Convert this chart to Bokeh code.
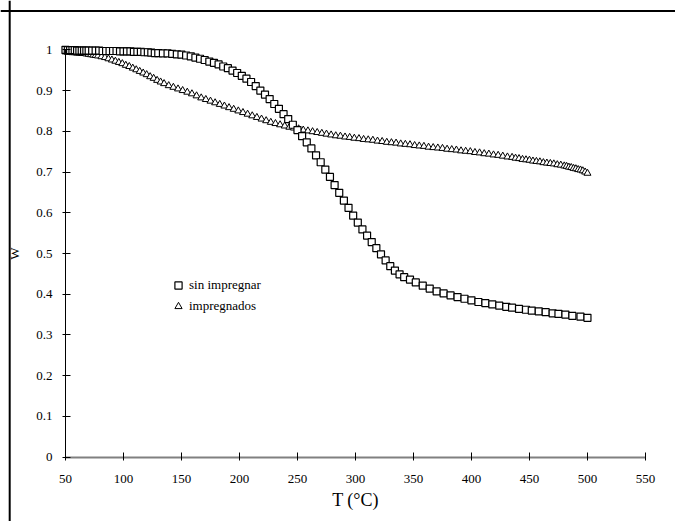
from bokeh.plotting import figure
from bokeh.models import (Range1d, FixedTicker, CustomJSTickFormatter, Legend,
                          LegendItem, Span, ColumnDataSource)
from bokeh.embed import file_html
from bokeh.resources import INLINE

# ---- data ----
t_sin = [50, 52, 54, 56, 58, 60, 62, 64, 66, 68, 70, 73, 76, 79, 82, 85, 88, 91, 94, 97,
         100, 103, 106, 109, 112, 115, 118, 121, 124, 127, 130, 134, 138, 142, 146, 150,
         154, 158, 162, 166, 170, 174, 178, 182, 186, 190, 194, 198, 202, 206, 210, 214,
         218, 222, 226, 230, 234, 238, 242, 246, 250, 254, 258, 262, 266, 270, 274, 278,
         282, 286, 290, 294, 298, 302, 306, 310, 314, 318, 322, 326, 330, 334, 338, 342,
         347, 352, 358, 364, 370, 376, 382, 388, 394, 400, 406, 412, 418, 424, 430, 435,
         441, 447, 452, 458, 464, 470, 475, 481, 487, 494, 500]
w_sin = [1.000, 0.999, 0.999, 0.999, 0.999, 0.998, 0.998, 0.998, 0.998, 0.998, 0.998, 0.998,
         0.998, 0.998, 0.997, 0.997, 0.997, 0.997, 0.997, 0.996, 0.996, 0.996, 0.996, 0.995,
         0.995, 0.995, 0.994, 0.994, 0.993, 0.992, 0.992, 0.991, 0.991, 0.990, 0.989, 0.988,
         0.986, 0.984, 0.981, 0.978, 0.975, 0.971, 0.968, 0.964, 0.959, 0.955, 0.949, 0.943,
         0.936, 0.929, 0.921, 0.911, 0.900, 0.890, 0.879, 0.867, 0.855, 0.842, 0.830, 0.816,
         0.803, 0.788, 0.773, 0.758, 0.741, 0.724, 0.706, 0.688, 0.668, 0.649, 0.630, 0.612,
         0.593, 0.576, 0.559, 0.544, 0.528, 0.513, 0.498, 0.483, 0.469, 0.458, 0.449, 0.442,
         0.436, 0.429, 0.421, 0.414, 0.407, 0.402, 0.397, 0.393, 0.389, 0.385, 0.381, 0.378,
         0.375, 0.372, 0.369, 0.367, 0.364, 0.362, 0.360, 0.358, 0.356, 0.353, 0.352, 0.350,
         0.347, 0.345, 0.342]

t_imp = [50, 52, 54, 56, 58, 60, 62, 64, 66, 68, 70, 72, 74, 76, 78, 81, 84, 87, 90, 93, 96,
         99, 102, 105, 108, 111, 114, 117, 120, 123, 126, 129, 132, 135, 139, 143, 147, 151,
         155, 159, 163, 167, 171, 175, 179, 183, 187, 191, 195, 199, 203, 207, 211, 215, 219,
         223, 227, 231, 235, 239, 243, 247, 251, 255, 259, 263, 267, 271, 275, 279, 283, 287,
         291, 295, 299, 303, 307, 311, 315, 319, 323, 327, 331, 335, 339, 343, 347, 351, 355,
         359, 363, 367, 371, 375, 379, 383, 387, 391, 395, 399, 403, 407, 411, 415, 419, 423,
         427, 431, 435, 438, 441, 444, 447, 450, 453, 456, 459, 462, 465, 468, 471, 474, 477,
         480, 482, 484, 486, 488, 490, 492, 494, 496, 498, 500]
w_imp = [0.995, 0.994, 0.994, 0.993, 0.993, 0.992, 0.992, 0.991, 0.991, 0.990, 0.989, 0.988,
         0.987, 0.986, 0.985, 0.983, 0.981, 0.978, 0.975, 0.972, 0.969, 0.966, 0.962, 0.959,
         0.955, 0.951, 0.947, 0.943, 0.939, 0.934, 0.930, 0.925, 0.921, 0.917, 0.912, 0.908,
         0.904, 0.900, 0.896, 0.892, 0.887, 0.882, 0.878, 0.874, 0.870, 0.866, 0.862, 0.858,
         0.854, 0.850, 0.846, 0.842, 0.838, 0.834, 0.830, 0.826, 0.822, 0.819, 0.816, 0.813,
         0.810, 0.808, 0.806, 0.803, 0.801, 0.799, 0.797, 0.795, 0.793, 0.791, 0.789, 0.788,
         0.786, 0.785, 0.783, 0.782, 0.780, 0.779, 0.778, 0.776, 0.775, 0.773, 0.772, 0.771,
         0.769, 0.768, 0.767, 0.765, 0.764, 0.763, 0.761, 0.760, 0.759, 0.758, 0.756, 0.755,
         0.754, 0.752, 0.751, 0.750, 0.748, 0.747, 0.745, 0.744, 0.742, 0.741, 0.739, 0.737,
         0.736, 0.734, 0.733, 0.731, 0.730, 0.729, 0.727, 0.726, 0.725, 0.723, 0.722, 0.721,
         0.720, 0.718, 0.717, 0.715, 0.714, 0.712, 0.711, 0.709, 0.708, 0.706, 0.705, 0.703,
         0.700, 0.697, 0.692]

x_ticks = [50, 100, 150, 200, 250, 300, 350, 400, 450, 500, 550]
y_ticks = [0, 0.1, 0.2, 0.3, 0.4, 0.5, 0.6, 0.7, 0.8, 0.9, 1]
series_labels = ["sin impregnar", "impregnados"]
x_title = "T (°C)"
y_title = "W"

FONT = "Liberation Serif"

p = figure(width=675, height=521, output_backend="svg", toolbar_location=None,
           x_range=Range1d(-6.03, 575.9), y_range=Range1d(-0.1578, 1.1210),
           min_border=0, title=None)
p.outline_line_color = None
p.xgrid.visible = False
p.ygrid.visible = False
p.background_fill_color = "white"
p.border_fill_color = "white"

# axes placed inside the frame at data locations
xa = p.xaxis[0]
ya = p.yaxis[0]
xa.fixed_location = 0
ya.fixed_location = 50
xa.bounds = (x_ticks[0], x_ticks[-1])
ya.bounds = (y_ticks[0], y_ticks[-1])
xa.ticker = FixedTicker(ticks=x_ticks)
ya.ticker = FixedTicker(ticks=y_ticks)
ya.formatter = CustomJSTickFormatter(code="return String(Math.round(tick*10)/10);")
xa.formatter = CustomJSTickFormatter(code="return String(Math.round(tick));")
xa.minor_tick_line_color = None
ya.minor_tick_line_color = None
xa.axis_line_color = "#808080"
xa.axis_line_width = 2
ya.axis_line_color = "black"
ya.axis_line_width = 1
for ax in (xa, ya):
    ax.major_tick_line_color = "black"
    ax.major_tick_line_width = 1
    ax.major_tick_in = 5
    ax.major_tick_out = 3
    ax.major_label_text_font = FONT
    ax.major_label_text_font_size = "13px"
    ax.major_label_text_color = "black"
    ax.axis_label_text_font = FONT
    ax.axis_label_text_font_style = "normal"
    ax.axis_label_text_color = "black"
xa.major_label_standoff = 15
ya.major_label_standoff = 10
xa.axis_label = x_title
xa.axis_label_text_font_size = "18px"
xa.axis_label_standoff = 3
ya.axis_label = y_title
ya.axis_label_text_font_size = "13px"
ya.axis_label_standoff = 11

# outer border (left and top edges)
p.add_layout(Span(location=1.9, dimension="height", line_color="black", line_width=2))
p.add_layout(Span(location=1.0952, dimension="width", line_color="black", line_width=2))

src_sin = ColumnDataSource(dict(t=t_sin, w=w_sin))
src_imp = ColumnDataSource(dict(t=t_imp, w=w_imp))
r_imp = p.scatter("t", "w", source=src_imp, marker="triangle", size=7,
                  line_color="black", line_width=1, fill_color="white")
r_sin = p.scatter("t", "w", source=src_sin, marker="square", size=7,
                  line_color="black", line_width=1.2, fill_color="white")

legend = Legend(items=[LegendItem(label=series_labels[0], renderers=[r_sin]),
                       LegendItem(label=series_labels[1], renderers=[r_imp])],
                location=(169, 206), padding=0, spacing=3, margin=0,
                glyph_width=18, glyph_height=18, label_height=18, label_standoff=2,
                label_text_font=FONT, label_text_font_size="13px",
                label_text_color="black",
                border_line_color=None, background_fill_alpha=0)
p.add_layout(legend)

open("out.html", "w").write(file_html(p, INLINE))
